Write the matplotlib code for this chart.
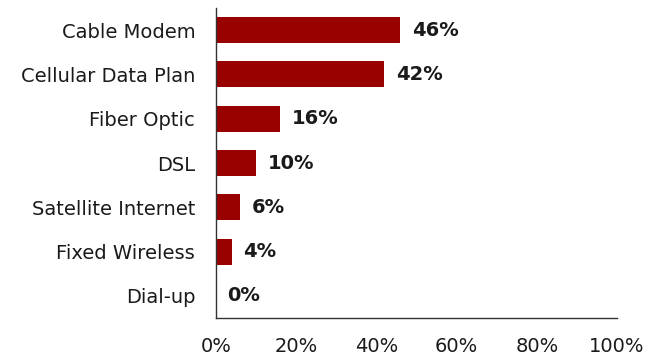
import matplotlib.pyplot as plt
from matplotlib.ticker import PercentFormatter

categories = ["Cable Modem", "Cellular Data Plan", "Fiber Optic", "DSL",
              "Satellite Internet", "Fixed Wireless", "Dial-up"]
values = [46, 42, 16, 10, 6, 4, 0]
xticks = [0, 20, 40, 60, 80, 100]

plt.rcParams['font.family'] = ['DejaVu Sans']

fig = plt.figure(figsize=(6.52, 3.6), dpi=100)
ax = fig.add_axes([216 / 652, 1 - 318 / 360, (617 - 216) / 652, 310 / 360])

y = list(range(len(categories)))
ax.barh(y, values, height=0.59, color="#990000")
for yi, v in zip(y, values):
    ax.text(v + 2.8, yi, f"{v}%", va="center", ha="left",
            fontsize=14, fontweight="bold", color="#1a1a1a")

ax.set_yticks(y)
ax.set_yticklabels(categories)
ax.set_ylim(len(categories) - 0.5, -0.5)
ax.set_xlim(0, 100)
ax.set_xticks(xticks)
ax.xaxis.set_major_formatter(PercentFormatter(decimals=0))

ax.tick_params(axis="both", length=0, labelsize=14, colors="#1a1a1a")
ax.tick_params(axis="x", pad=14)
ax.tick_params(axis="y", pad=15)
for s in ["top", "right"]:
    ax.spines[s].set_visible(False)
for s in ["left", "bottom"]:
    ax.spines[s].set_color("#333333")
    ax.spines[s].set_linewidth(1)

fig.savefig("out.png", dpi=100)
